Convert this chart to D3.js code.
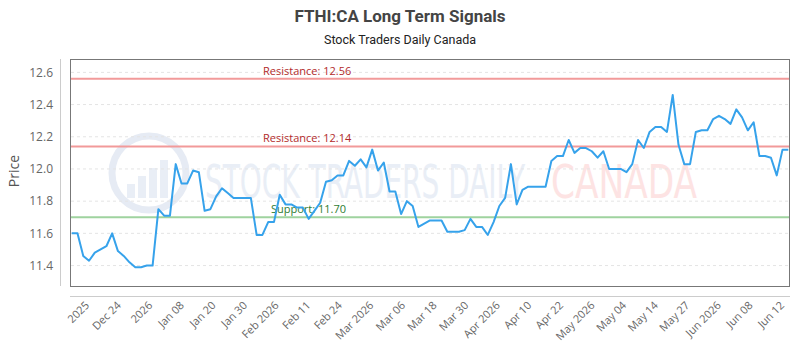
<!DOCTYPE html>
<html>
<head>
<meta charset="utf-8">
<script src="https://cdn.jsdelivr.net/npm/d3@7"></script>
<style>
  html, body { margin: 0; padding: 0; background: #fff; }
  svg { display: block; }
</style>
</head>
<body>
<div id="chart"></div>
<script>
const title = "FTHI:CA Long Term Signals";
const subtitle = "Stock Traders Daily Canada";

const prices = [
  11.60, 11.60, 11.46, 11.43, 11.48, 11.50, 11.52, 11.60, 11.49, 11.46,
  11.42, 11.39, 11.39, 11.40, 11.40, 11.75, 11.71, 11.71, 12.03, 11.91,
  11.91, 11.99, 11.98, 11.74, 11.75, 11.83, 11.88, 11.85, 11.82, 11.82,
  11.82, 11.82, 11.59, 11.59, 11.67, 11.67, 11.84, 11.78, 11.78, 11.76,
  11.76, 11.69, 11.74, 11.79, 11.92, 11.93, 11.96, 11.96, 12.05, 12.02,
  12.06, 12.01, 12.12, 11.99, 12.04, 11.86, 11.86, 11.72, 11.80, 11.77,
  11.64, 11.66, 11.68, 11.68, 11.68, 11.61, 11.61, 11.61, 11.62, 11.69,
  11.64, 11.64, 11.59, 11.67, 11.77, 11.82, 12.03, 11.78, 11.87, 11.89,
  11.89, 11.89, 11.89, 12.05, 12.08, 12.08, 12.18, 12.10, 12.13, 12.13,
  12.11, 12.07, 12.11, 12.00, 12.00, 12.00, 11.98, 12.03, 12.18, 12.13,
  12.23, 12.26, 12.26, 12.23, 12.46, 12.15, 12.03, 12.03, 12.23, 12.24,
  12.24, 12.31, 12.33, 12.31, 12.28, 12.37, 12.32, 12.24, 12.29, 12.08,
  12.08, 12.07, 11.96, 12.12, 12.12
];

const xLabels = [
  "2025", "Dec 24", "2026", "Jan 08", "Jan 20", "Jan 30", "Feb 2026", "Feb 11",
  "Feb 24", "Mar 2026", "Mar 06", "Mar 18", "Mar 30", "Apr 2026", "Apr 10",
  "Apr 22", "May 2026", "May 04", "May 14", "May 27", "Jun 2026", "Jun 08", "Jun 12"
];

const yTicks = [11.4, 11.6, 11.8, 12.0, 12.2, 12.4, 12.6];

const levelNames = ["Resistance", "Resistance", "Support"];
const levelValues = [12.56, 12.14, 11.70];
const levelKinds = ["res", "res", "sup"];

const W = 800, H = 350;
const plot = { left: 70, right: 790, top: 59, bottom: 286 };

const svg = d3.select("#chart").append("svg")
  .attr("width", W).attr("height", H)
  .attr("viewBox", `0 0 ${W} ${H}`);

svg.append("rect").attr("width", W).attr("height", H).attr("fill", "#fff");

const x = d3.scaleLinear().domain([0, prices.length - 1]).range([71.7, 788.3]);
const y = d3.scaleLinear().domain([11.273, 12.683]).range([plot.bottom, plot.top]);
const xl = d3.scalePoint().domain(xLabels).range([90, 785]);

// Title
svg.append("text").attr("x", 400).attr("y", 22)
  .attr("text-anchor", "middle")
  .attr("font-family", "'Liberation Sans Narrow', 'Roboto', sans-serif")
  .attr("font-weight", "bold").attr("font-size", 17).attr("fill", "#444")
  .text(title);
svg.append("text").attr("x", 400).attr("y", 44)
  .attr("text-anchor", "middle")
  .attr("font-family", "'Liberation Sans Narrow', 'Roboto', sans-serif")
  .attr("font-size", 12.5).attr("fill", "#222")
  .text(subtitle);

// Watermark
const wm = svg.append("g").attr("class", "watermark");
wm.append("circle").attr("cx", 149).attr("cy", 173).attr("r", 37)
  .attr("fill", "none").attr("stroke", "#e6ebf4").attr("stroke-width", 7);
const barH = [14, 22, 30, 38];
wm.selectAll("rect.wb").data(barH).enter().append("rect")
  .attr("x", (d, i) => 127 + i * 11).attr("y", d => 198 - d)
  .attr("width", 8).attr("height", d => d).attr("fill", "#e9eef6");
wm.append("text").attr("x", 205).attr("y", 198)
  .attr("font-family", "'Liberation Sans Narrow', 'DejaVu Sans Condensed', sans-serif")
  .attr("font-size", 46).attr("fill", "#e9eef6")
  .attr("textLength", 320).attr("lengthAdjust", "spacingAndGlyphs")
  .text("STOCK TRADERS DAILY");
wm.append("text").attr("x", 551).attr("y", 198)
  .attr("font-family", "'Liberation Sans Narrow', 'DejaVu Sans Condensed', sans-serif")
  .attr("font-size", 46).attr("fill", "#fde3e3")
  .attr("textLength", 146).attr("lengthAdjust", "spacingAndGlyphs")
  .text("CANADA");

// Gridlines
svg.append("g").selectAll("line").data(yTicks).enter().append("line")
  .attr("x1", plot.left + 1).attr("x2", plot.right - 1)
  .attr("y1", d => y(d)).attr("y2", d => y(d))
  .attr("stroke", "#e4e4e4").attr("stroke-width", 1)
  .attr("stroke-dasharray", "3,3");

// Level lines
const levelColor = { res: "#f29a9a", sup: "#9fd39f" };
const levelText = { res: "#b22a2a", sup: "#2f7d32" };
svg.append("g").selectAll("line").data(levelValues).enter().append("line")
  .attr("x1", plot.left + 1).attr("x2", plot.right - 1)
  .attr("y1", d => y(d)).attr("y2", d => y(d))
  .attr("stroke", (d, i) => levelColor[levelKinds[i]]).attr("stroke-width", 2);
svg.append("g").selectAll("text").data(levelValues).enter().append("text")
  .attr("x", (d, i) => levelKinds[i] === "res" ? 263 : 271)
  .attr("y", d => y(d) - 4)
  .attr("font-family", "'Open Sans', sans-serif").attr("font-size", 11)
  .attr("fill", (d, i) => levelText[levelKinds[i]])
  .text((d, i) => `${levelNames[i]}: ${d.toFixed(2)}`);

// Data line
const line = d3.line().x((d, i) => x(i)).y(d => y(d));
svg.append("path").datum(prices)
  .attr("d", line).attr("fill", "none")
  .attr("stroke", "#36a2eb").attr("stroke-width", 2)
  .attr("stroke-linejoin", "round");

// Plot border
svg.append("rect").attr("x", plot.left + 0.5).attr("y", plot.top + 0.5)
  .attr("width", plot.right - plot.left - 1).attr("height", plot.bottom - plot.top)
  .attr("fill", "none").attr("stroke", "#777").attr("stroke-width", 1);

// Y axis
const yAxis = svg.append("g");
yAxis.append("line").attr("x1", 60.5).attr("x2", 60.5).attr("y1", plot.top).attr("y2", plot.bottom)
  .attr("stroke", "#ccc");
yAxis.selectAll("text").data(yTicks).enter().append("text")
  .attr("x", 53).attr("y", d => y(d)).attr("dy", "0.35em")
  .attr("text-anchor", "end")
  .attr("font-family", "'Open Sans', sans-serif").attr("font-size", 12).attr("fill", "#666")
  .text(d => d3.format(".1f")(d));
svg.append("text")
  .attr("transform", "translate(19,171) rotate(-90)")
  .attr("text-anchor", "middle")
  .attr("font-family", "'Open Sans', sans-serif").attr("font-size", 14).attr("fill", "#555")
  .text("Price");

// X axis
const xAxis = svg.append("g");
xAxis.append("line").attr("x1", plot.left).attr("x2", plot.right)
  .attr("y1", 296.5).attr("y2", 296.5).attr("stroke", "#ccc");
xAxis.selectAll("text").data(xLabels).enter().append("text")
  .attr("transform", d => `translate(${xl(d)},306) rotate(-45)`)
  .attr("text-anchor", "end")
  .attr("font-family", "'Open Sans', sans-serif").attr("font-size", 11).attr("fill", "#666")
  .text(d => d);
</script>
</body>
</html>
